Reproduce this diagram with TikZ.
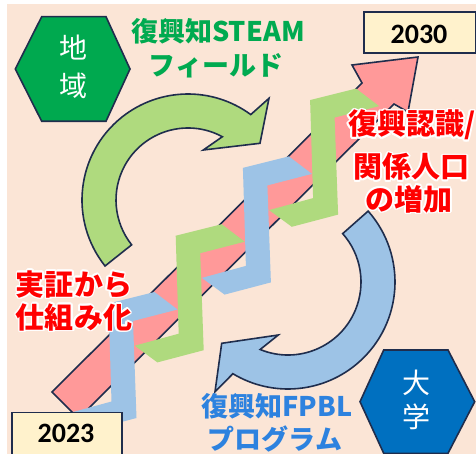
\documentclass[tikz,border=0pt]{standalone}
\usepackage{fontspec}
\setmainfont{Noto Sans CJK JP}
\newfontfamily\numfont{Carlito}
\usepackage{contour}
\contourlength{1.6pt}
\definecolor{bgc}{HTML}{FBE5D6}
\definecolor{pinkA}{HTML}{FF9999}
\definecolor{greenR}{HTML}{AFDA7E}
\definecolor{blueR}{HTML}{9DC3E6}
\definecolor{navy}{HTML}{1F2D4D}
\definecolor{hexG}{HTML}{00A94F}
\definecolor{hexB}{HTML}{0070C0}
\definecolor{boxY}{HTML}{FFF2CC}
\definecolor{txtG}{HTML}{00AA50}
\definecolor{txtR}{HTML}{FF0000}
\definecolor{txtB}{HTML}{2D82DF}
\tikzset{
  outl/.style={draw=navy, line width=1.6pt, line join=miter},
  lbl/.style={inner sep=0pt, font=\bfseries\fontsize{27}{27}\selectfont},
  redlbl/.style={inner sep=0pt, text=txtR, font=\bfseries\fontsize{29}{29}\selectfont},
  hexlbl/.style={inner sep=0pt, text=white, font=\fontsize{28}{28}\selectfont},
  yearbox/.style={outl, fill=boxY},
  yearlbl/.style={inner sep=0pt, font=\numfont\bfseries\fontsize{28}{28}\selectfont}
}
\begin{document}
\begin{tikzpicture}[x=1pt,y=-1pt]
\useasboundingbox (0,0) rectangle (476,454);
\fill[white] (0,0) rectangle (476,454);
\fill[bgc] (7,4) rectangle (476,454);
% pink arrow
\draw[outl, fill=pinkA] (52,392) -- (362,83) -- (352,65) -- (418,57) -- (408,112) -- (394,104) -- (78.5,418.5) -- cycle;
% green circular arrow
\coordinate (cg) at (188,200);
\draw[outl, fill=greenR] ([shift={(141.5:106)}]cg) arc[start angle=141.5, end angle=306.3, radius=106]
  -- (269,98.3) -- (260,143.3) -- (203.3,150) -- ([shift={(298.5:72)}]cg)
  arc[start angle=298.5, end angle=141.5, radius=72] -- cycle;
% blue circular arrow
\coordinate (cb) at (288,282);
\draw[outl, fill=blueR] ([shift={(-41.5:107)}]cb) arc[start angle=-41.5, end angle=121, radius=107]
  -- (215,391.7) -- (221.7,343.3) -- (278.3,335) -- ([shift={(112.4:73)}]cb)
  arc[start angle=112.4, end angle=-41.5, radius=73] -- cycle;
% zigzag ribbons
\foreach \k/\c in {0/blueR,1/greenR,2/blueR,3/greenR}{
  \fill[\c, shift={(108.5+67.2*\k, 303.5-67.8*\k)}]
    (0,0) -- (46,-11.5) -- (69,6) -- (24.5,17.5) -- (28,114.5) -- (-18.3,126.7) -- (-41,110) -- (3,98) -- cycle;
}
% hexagons
\draw[outl, fill=hexG] (15.3,69) -- (41.7,16.7) -- (106,16.7) -- (130,69) -- (106,121.3) -- (41.7,121.3) -- cycle;
\draw[outl, fill=hexB] (360,401.7) -- (383.7,350) -- (448,350) -- (474.7,401.7) -- (448,453.3) -- (383.7,453.3) -- cycle;
\node[hexlbl] (chi) at (73,47.5) {地};
\node[hexlbl] (iki) at (73,86) {域};
\node[hexlbl] (dai) at (416,383) {大};
\node[hexlbl] (gaku) at (416,417) {学};
% year boxes
\draw[yearbox] (363.7,12.3) rectangle (475.3,53.3);
\node[yearlbl] (y2030) at (419,34) {2030};
\draw[yearbox] (11.7,412.3) rectangle (121.7,460);
\node[yearlbl] (y2023) at (66,433) {2023};
% green label
\node[lbl, text=txtG] (steam1) at (218,31) {復興知STEAM};
\node[lbl, text=txtG] (steam2) at (216,66) {フィールド};
% blue label
\node[lbl, text=txtB] (fpbl1) at (277,406) {復興知FPBL};
\node[lbl, text=txtB] (fpbl2) at (275,439) {プログラム};
% red labels
\node[redlbl] (r1) at (412,126) {\contour{white}{復興認識/}};
\node[redlbl] (r2) at (411.5,167.5) {\contour{white}{関係人口}};
\node[redlbl] (r3) at (409,200) {\contour{white}{の増加}};
\node[redlbl] (l1) at (74,285) {\contour{white}{実証から}};
\node[redlbl] (l2) at (74,318) {\contour{white}{仕組み化}};
\end{tikzpicture}
\end{document}
